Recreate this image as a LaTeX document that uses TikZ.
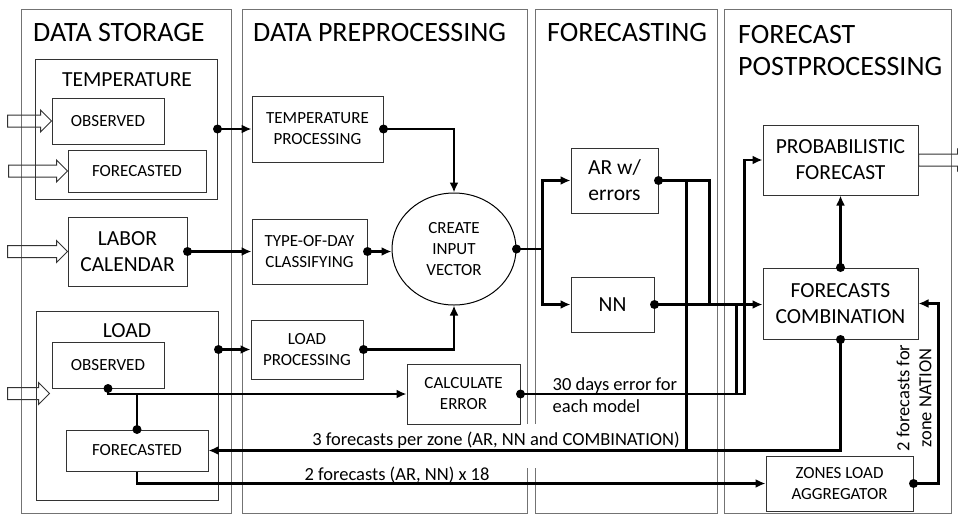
\documentclass[tikz,border=0pt]{standalone}
\usepackage{fontspec}
\setmainfont{Carlito}
\usetikzlibrary{arrows.meta, shapes.geometric, calc}

\tikzset{
  column/.style={draw=black!55, line width=1pt},
  grp/.style={draw=black!80, line width=1pt, inner sep=0pt},
  box/.style={draw=black!80, line width=1pt, align=center, inner sep=0pt, font=\fontsize{17}{21}\selectfont},
  bigbox/.style={box, font=\fontsize{21.5}{26}\selectfont},
  coltitle/.style={font=\fontsize{28}{32}\selectfont, inner sep=0pt},
  grptitle/.style={font=\fontsize{21.5}{26}\selectfont, inner sep=0pt},
  lbl/.style={font=\fontsize{18.5}{22}\selectfont, inner sep=0pt},
  conn/.style={line width=2.2pt, -{Latex[length=10pt,width=9pt]}},
  wire/.style={line width=2.2pt},
  jdot/.style={circle, fill, inner sep=0pt, minimum size=9pt},
  pics/blockarrow/.style={code={
    \draw[line width=1pt, draw=black!80]
      (-#1,-6pt) -- (-11pt,-6pt) -- (-11pt,-11pt) -- (0pt,0pt)
      -- (-11pt,11pt) -- (-11pt,6pt) -- (-#1,6pt) -- cycle;}}
}

\begin{document}
\begin{tikzpicture}[x=1pt, y=-1pt]
  \useasboundingbox (0,0) rectangle (958,515);

  % columns
  \draw[column] (21,9) rectangle (231,513);
  \draw[column] (242,9) rectangle (527,513);
  \draw[column] (535,9) rectangle (717,513);
  \draw[column] (724,9) rectangle (951,513);

  \node[coltitle, anchor=base west] (ttlstore) at (33,41) {DATA STORAGE};
  \node[coltitle, anchor=base west] (ttlprep) at (253,41) {DATA PREPROCESSING};
  \node[coltitle, anchor=base west] (ttlfcst) at (547,41) {FORECASTING};
  \node[coltitle, anchor=north west, align=left] (ttlpost) at (738,25) {FORECAST\\POSTPROCESSING};

  % label boxes that blank the column lines
  \node[lbl, anchor=base, fill=white, inner xsep=2pt, text height=21pt, text depth=23pt] (fc3lbl) at (496,445) {3 forecasts per zone (AR, NN and COMBINATION)};
  \node[lbl, anchor=base] (fc2lbl) at (397,480) {2 forecasts (AR, NN) x 18};

  % data storage
  \node[grp, minimum width=182pt, minimum height=140pt] (tgrp) at (126,129) {};
  \node[grptitle, anchor=base] (tgrpttl) at (127,86) {TEMPERATURE};
  \node[box, minimum width=112pt, minimum height=46pt] (tobs) at (108,121) {OBSERVED};
  \node[box, minimum width=138pt, minimum height=42pt] (tfor) at (137,171) {FORECASTED};
  \node[bigbox, minimum width=119pt, minimum height=69pt] (labor) at (127.5,251.5) {LABOR\\CALENDAR};
  \node[grp, minimum width=182pt, minimum height=189pt] (lgrp) at (127,405.5) {};
  \node[grptitle, anchor=base] (lgrpttl) at (127,337) {LOAD};
  \node[box, minimum width=112pt, minimum height=46pt] (lobs) at (108,365) {OBSERVED};
  \node[box, minimum width=142pt, minimum height=41pt] (lfor) at (137,450.5) {FORECASTED};

  \pic at (tobs.west) {blockarrow=44pt};
  \pic at (tfor.west) {blockarrow=59pt};
  \pic at (labor.west) {blockarrow=60pt};
  \pic at ([shift={(-2,5)}]lobs.south west) {blockarrow=42pt};

  % preprocessing
  \node[box, minimum width=131pt, minimum height=66pt] (tproc) at (317.5,129) {TEMPERATURE\\PROCESSING};
  \node[box, minimum width=115pt, minimum height=65pt] (tod) at (309.5,251.5) {TYPE-OF-DAY\\CLASSIFYING};
  \node[box, ellipse, draw=black, minimum width=124pt, minimum height=112pt] (civ) at (454,249) {CREATE\\INPUT\\VECTOR};
  \node[box, minimum width=112pt, minimum height=59pt] (lproc) at (307,349.5) {LOAD\\PROCESSING};
  \node[box, minimum width=113pt, minimum height=60pt] (calc) at (463.5,394) {CALCULATE\\ERROR};

  % forecasting
  \node[bigbox, minimum width=87pt, minimum height=65pt] (ar) at (614.5,180.5) {AR w/\\errors};
  \node[bigbox, minimum width=83pt, minimum height=55pt] (nn) at (612.5,304.5) {NN};

  % postprocessing
  \node[bigbox, minimum width=155pt, minimum height=70pt] (prob) at (840.5,160) {PROBABILISTIC\\FORECAST};
  \node[bigbox, minimum width=155pt, minimum height=71pt] (comb) at (840.5,303.5) {FORECASTS\\COMBINATION};
  \node[box, minimum width=147pt, minimum height=55pt] (zla) at (839.5,483.5) {ZONES LOAD\\AGGREGATOR};
  \pic at ([xshift=50pt]prob.east) {blockarrow=50pt};

  \node[lbl, anchor=west, align=left] (errlbl) at ([xshift=32pt,yshift=-1pt]calc.east) {30 days error for\\each model};
  \node[lbl, rotate=90, align=center] (natlbl) at (914,398) {2 forecasts for\\zone NATION};

  % connectors
  \draw[conn] (tgrp.east) node[jdot]{} -- (tproc.west);
  \draw[conn] (labor.east) node[jdot]{} -- (tod.west);
  \draw[conn] (lgrp.east |- lproc.west) node[jdot]{} -- (lproc.west);
  \draw[conn] (tproc.east) node[jdot]{} -| (civ.north);
  \draw[conn] (tod.east) node[jdot]{} -- (tod.east -| civ.west);
  \draw[conn] (lproc.east) node[jdot]{} -| (civ.south);
  \draw[conn] (civ.east) node[jdot]{} -- ++(26,0) coordinate (split) |- (ar.west);
  \draw[conn] (split) |- (nn.west);

  \draw[conn] (lobs.south) node[jdot]{} |- (calc.west);
  \draw[wire] (lfor.north |- calc.west) -- (lfor.north) node[jdot]{};
  \draw[conn] (calc.east) node[jdot]{} -| ([xshift=-18pt]prob.west) -- (prob.west);
  \draw[wire] ([xshift=-26pt]comb.west |- calc.east) -- ([xshift=-26pt]comb.west |- nn.east);

  \draw[conn] (nn.east) node[jdot]{} -- (nn.east -| comb.west);
  \draw[wire] (ar.east) node[jdot]{} -| ([xshift=-53pt]comb.west |- nn.east);
  \draw[wire] ([xshift=28pt]ar.east) -- ([xshift=28pt]ar.east |- lfor.east);
  \draw[conn] (comb.south) node[jdot]{} |- (lfor.east);
  \draw[conn] (lfor.south) |- (zla.west);
  \draw[conn] (zla.east) node[jdot]{} -- ++(25,0) |- (comb.east);
  \draw[conn] (comb.north) node[jdot]{} -- (prob.south);
\end{tikzpicture}
\end{document}
